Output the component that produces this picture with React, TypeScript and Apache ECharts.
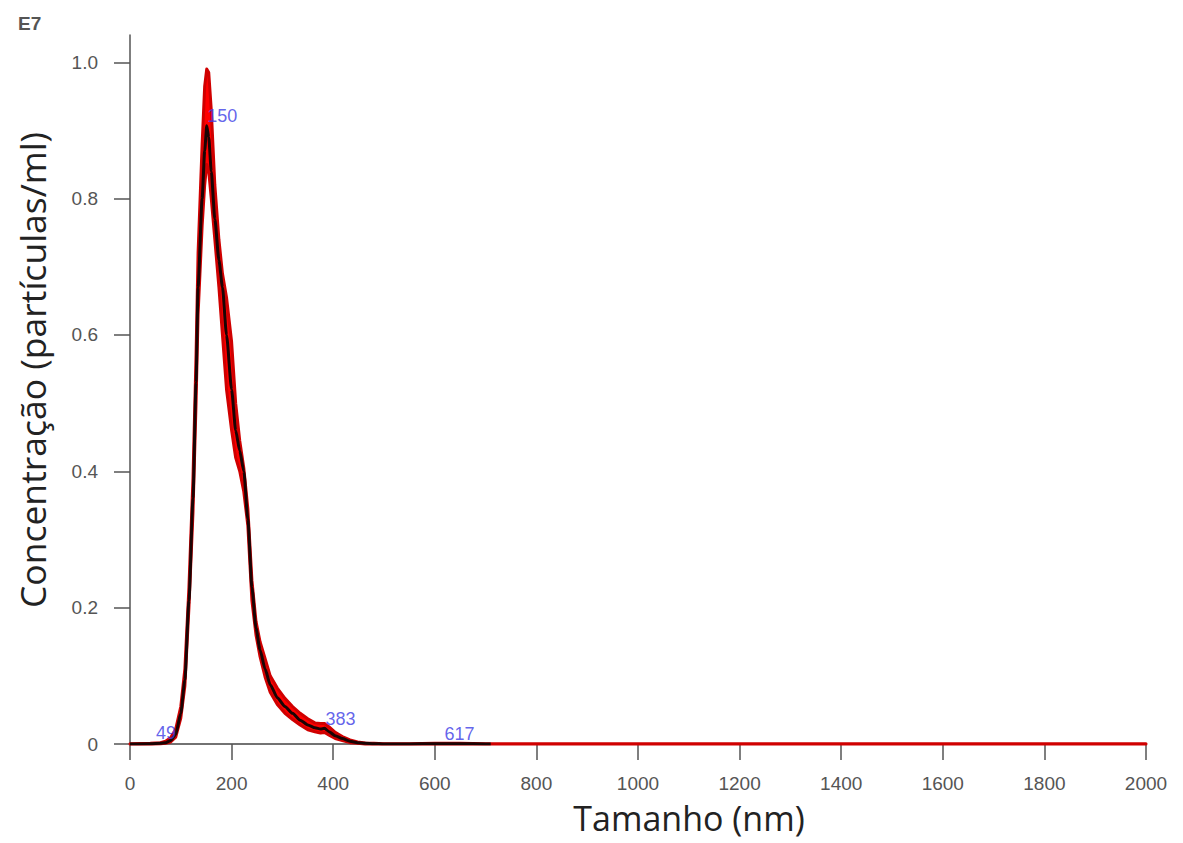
import React, { useEffect, useRef } from "react";
import * as echarts from "echarts";

// Size grid (nm)
const sizes = [0, 40, 60, 70, 80, 90, 100, 108, 116, 124, 130, 134, 142, 147, 151, 155, 160, 167, 175, 182, 190, 200, 208, 216, 224, 232, 240, 248, 256, 266, 276, 290, 305, 320, 335, 350, 364, 375, 383, 392, 404, 418, 433, 448, 463, 480, 500, 550, 600, 650, 700, 710, 800, 1000, 1200, 1400, 1600, 1800, 2000];

// Mean concentration (E7 particles/ml)
const meanValues = [0, 0.0005, 0.001, 0.002, 0.005, 0.014, 0.045, 0.094, 0.21, 0.36, 0.53, 0.67, 0.8, 0.87, 0.907, 0.89, 0.84, 0.77, 0.71, 0.67, 0.6, 0.52, 0.46, 0.43, 0.4, 0.33, 0.23, 0.17, 0.138, 0.11, 0.087, 0.068, 0.055, 0.045, 0.035, 0.028, 0.024, 0.022, 0.023, 0.018, 0.012, 0.008, 0.004, 0.002, 0.001, 0.0005, 0, 0, 0.0005, 0.0005, 0, 0, null, null, null, null, null, null, null];

// Error band (upper / lower)
const upperValues = [0.0005, 0.001, 0.002, 0.004, 0.009, 0.022, 0.055, 0.11, 0.23, 0.39, 0.57, 0.72, 0.88, 0.965, 0.99, 0.985, 0.93, 0.82, 0.74, 0.69, 0.655, 0.59, 0.5, 0.445, 0.405, 0.345, 0.24, 0.18, 0.15, 0.125, 0.1, 0.082, 0.067, 0.055, 0.045, 0.037, 0.031, 0.03, 0.03, 0.025, 0.017, 0.011, 0.006, 0.003, 0.0015, 0.001, 0.0005, 0.0005, 0.001, 0.001, 0.0005, 0.0005, 0.0005, 0.0005, 0.0005, 0.0005, 0.0005, 0.0005, 0.0005];
const lowerValues = [0, 0, 0.0005, 0.001, 0.003, 0.01, 0.038, 0.085, 0.2, 0.34, 0.5, 0.63, 0.76, 0.82, 0.85, 0.84, 0.8, 0.74, 0.67, 0.6, 0.52, 0.46, 0.42, 0.4, 0.37, 0.32, 0.21, 0.16, 0.128, 0.098, 0.076, 0.058, 0.045, 0.036, 0.028, 0.021, 0.018, 0.016, 0.017, 0.013, 0.008, 0.005, 0.002, 0.001, 0, 0, 0, 0, 0, 0, 0, 0, 0, 0, 0, 0, 0, 0, 0];

// Peak annotations
const peakSizes = [49, 150, 383, 617];
const peakValues = [0.002, 0.907, 0.022, 0];

const xTicks = [0, 200, 400, 600, 800, 1000, 1200, 1400, 1600, 1800, 2000];
const yTicks = [0, 0.2, 0.4, 0.6, 0.8, 1.0];

export default function App() {
  const ref = useRef<HTMLDivElement>(null);
  useEffect(() => {
    const chart = echarts.init(ref.current!, null, { renderer: "svg" });
    const tickFont = "Liberation Sans, Arial, sans-serif";
    const option: any = {
      animation: false,
      backgroundColor: "#ffffff",
      grid: { left: 130, right: 37, top: 35, bottom: 99, outerBoundsMode: "none" },
      xAxis: {
        type: "value",
        min: 0,
        max: 2000,
        interval: 200,
        axisLine: { show: true, lineStyle: { color: "#444", width: 1.5 } },
        axisTick: { show: true, length: 16, lineStyle: { color: "#555", width: 1.5 }, customValues: xTicks },
        axisLabel: { margin: 30, fontSize: 19, color: "#555", fontFamily: tickFont, customValues: xTicks, formatter: (v: number) => String(v) },
        splitLine: { show: false },
      },
      yAxis: {
        type: "value",
        min: 0,
        max: 1.04,
        axisLine: { show: true, lineStyle: { color: "#555", width: 1.5 } },
        axisTick: { show: true, length: 16, lineStyle: { color: "#555", width: 1.5 }, customValues: yTicks },
        axisLabel: {
          margin: 32,
          fontSize: 19,
          color: "#555",
          fontFamily: tickFont,
          customValues: yTicks,
          formatter: (v: number) => (v === 0 ? "0" : v.toFixed(1)),
        },
        splitLine: { show: false },
      },
      series: [
        {
          type: "custom",
          coordinateSystem: "cartesian2d",
          z: 2,
          data: sizes.map((s, i) => [s, upperValues[i]]),
          encode: { x: 0, y: 1 },
          renderItem: (params: any, api: any) => {
            if (params.dataIndex !== 0) return null;
            const pts: number[][] = [];
            for (let i = 0; i < sizes.length; i++) pts.push(api.coord([sizes[i], upperValues[i]]));
            for (let i = sizes.length - 1; i >= 0; i--) pts.push(api.coord([sizes[i], lowerValues[i]]));
            return {
              type: "polygon",
              shape: { points: pts },
              style: { fill: "#ff0000", stroke: "#d00000", lineWidth: 3, lineJoin: "round" },
            };
          },
        },
        {
          type: "line",
          z: 3,
          data: sizes.map((s, i) => [s, meanValues[i]]),
          showSymbol: false,
          symbol: "none",
          smooth: 0.2,
          smoothMonotone: "x",
          connectNulls: false,
          lineStyle: { color: "#1a0404", width: 3 },
        },
        {
          type: "scatter",
          z: 4,
          symbolSize: 0,
          data: peakSizes.map((s, i) => [s, peakValues[i]]),
          label: {
            show: true,
            position: "right",
            distance: 0,
            offset: [1, -10],
            fontSize: 18,
            color: "#3c3ce6",
            fontFamily: tickFont,
            formatter: (p: any) => String(p.value[0]),
          },
        },
      ],
      graphic: [
        {
          type: "text",
          left: 18,
          top: 14,
          style: { text: "E7", fontSize: 19, fontWeight: "bold", fill: "#555", fontFamily: tickFont },
        },
        {
          type: "text",
          x: 32,
          y: 370,
          rotation: Math.PI / 2,
          style: {
            text: "Concentração (partículas/ml)",
            fontSize: 35.5,
            fill: "#222",
            fontFamily: "Open Sans, sans-serif",
            align: "center",
            verticalAlign: "middle",
          },
        },
        {
          type: "text",
          x: 689,
          y: 818,
          style: {
            text: "Tamanho (nm)",
            fontSize: 34,
            fill: "#222",
            fontFamily: "Open Sans, sans-serif",
            align: "center",
            verticalAlign: "middle",
          },
        },
      ],
    };
    chart.setOption(option);
    return () => chart.dispose();
  }, []);
  return (
    <div
      ref={ref}
      style={{ position: "absolute", left: 0, top: 0, width: 1183, height: 843 }}
    />
  );
}
